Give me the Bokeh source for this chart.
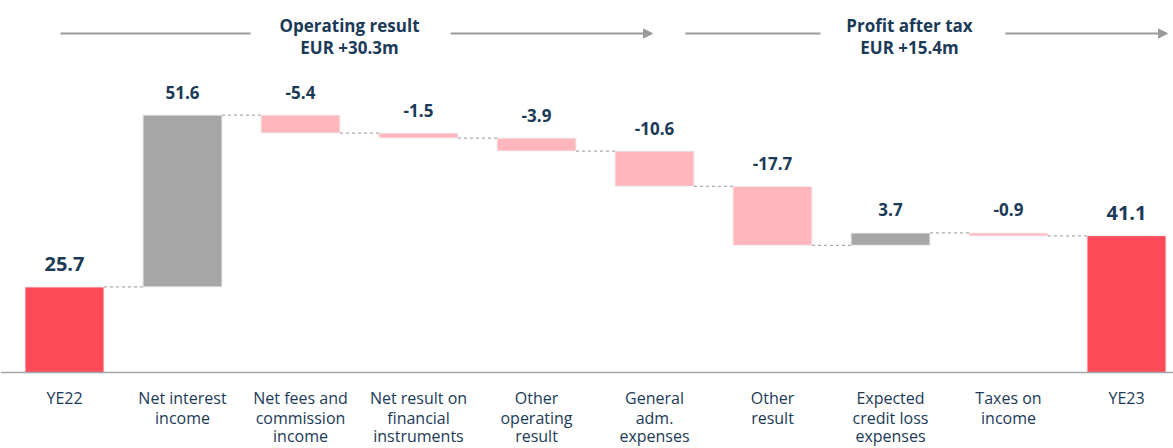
from bokeh.plotting import figure
from bokeh.models import Range1d, ColumnDataSource, Span, Arrow, NormalHead
from bokeh.core.properties import value
from bokeh.embed import file_html
from bokeh.resources import INLINE

categories = ["YE22", "Net interest\nincome", "Net fees and\ncommission\nincome",
              "Net result on\nfinancial\ninstruments", "Other\noperating\nresult",
              "General\nadm.\nexpenses", "Other\nresult", "Expected\ncredit loss\nexpenses",
              "Taxes on\nincome", "YE23"]
values = [25.7, 51.6, -5.4, -1.5, -3.9, -10.6, -17.7, 3.7, -0.9, 41.1]
labels = ["25.7", "51.6", "-5.4", "-1.5", "-3.9", "-10.6", "-17.7", "3.7", "-0.9", "41.1"]
kinds = ["total", "delta", "delta", "delta", "delta", "delta", "delta", "delta", "delta", "total"]
headers = [("Operating result", "EUR +30.3m"), ("Profit after tax", "EUR +15.4m")]

RED = "#FF4B57"
GREY = "#A6A6A6"
PINK = "#FFB7BD"
NAVY = "#1B3A57"
FONT = "Open Sans"

W, H = 1173, 448
SLOT = 118.0      # px per category
SCALE = 3.33      # px per EUR m
BASE = 372.0      # px from top of baseline
X0 = 64.0         # px of first category centre

# waterfall geometry from the data
bottoms, tops, colors, levels = [], [], [], []
run = 0.0
for v, k in zip(values, kinds):
    if k == "total":
        b, t = 0.0, v
        run = v
        colors.append(RED)
    else:
        b, t = (run, run + v) if v >= 0 else (run + v, run)
        run = run + v
        colors.append(GREY if v >= 0 else PINK)
    bottoms.append(b)
    tops.append(t)
    levels.append(run)
xs = list(range(len(values)))


def py(px):
    """pixel row from top -> data y"""
    return (BASE - px) / SCALE


BW = 0.67
p = figure(width=W, height=H, output_backend="svg", toolbar_location=None,
           x_range=Range1d(-X0 / SLOT, -X0 / SLOT + W / SLOT),
           y_range=Range1d(py(H), py(0)),
           min_border=0, outline_line_color=None)
p.xaxis.visible = False
p.yaxis.visible = False
p.grid.visible = False
p.background_fill_color = "white"

src = ColumnDataSource(dict(x=xs, bottom=bottoms, top=tops, color=colors))
p.vbar(x="x", bottom="bottom", top="top", width=BW, fill_color="color",
       line_color="#F0F0F0", line_width=1, source=src)

# connectors
cx0 = [i + BW / 2 for i in xs[:-1]]
cx1 = [i + 1 - BW / 2 for i in xs[:-1]]
cy = levels[:-1]
p.segment(x0=cx0, y0=cy, x1=cx1, y1=cy, line_color="#AAAAAA", line_width=1.2,
          line_dash="3 3")

# baseline
p.add_layout(Span(location=0, dimension="width", line_color="#A0A6AD", line_width=1.5))

# value labels
big = [k == "total" for k in kinds]
lx = [x for x, b in zip(xs, big) if not b]
ly = [t + 23 / SCALE for t, b in zip(tops, big) if not b]
lt = [l for l, b in zip(labels, big) if not b]
p.text(x=lx, y=ly, text=lt, text_align="center", text_baseline="middle",
       text_color=NAVY, text_font=value(FONT), text_font_size="17px", text_font_style="bold")
bx = [x for x, b in zip(xs, big) if b]
by = [t + 23 / SCALE for t, b in zip(tops, big) if b]
bt = [l for l, b in zip(labels, big) if b]
p.text(x=bx, y=by, text=bt, text_align="center", text_baseline="middle",
       text_color=NAVY, text_font=value(FONT), text_font_size="20px", text_font_style="bold")

# category labels
line_rows = [397, 417, 435]
for x, c in zip(xs, categories):
    for j, line in enumerate(c.split("\n")):
        p.text(x=[x], y=[py(line_rows[j])], text=[line], text_align="center",
               text_baseline="middle", text_color=NAVY, text_font=value(FONT),
               text_font_size="16px")

# header arrows and titles (pixel columns converted to category units)
def px_x(px):
    return (px - X0) / SLOT

hdr_y = py(33)
groups = [(60, 250, 450, 652, 349), (685, 820, 1005, 1167, 909)]
for (a0, a1, b0, b1, cx), (h1, h2) in zip(groups, headers):
    p.segment(x0=[px_x(a0)], y0=[hdr_y], x1=[px_x(a1)], y1=[hdr_y],
              line_color="#9A9A9A", line_width=2)
    p.add_layout(Arrow(x_start=px_x(b0), y_start=hdr_y, x_end=px_x(b1), y_end=hdr_y,
                       line_color="#9A9A9A", line_width=2,
                       end=NormalHead(size=9, fill_color="#9A9A9A", line_color="#9A9A9A")))
    p.text(x=[px_x(cx)], y=[py(25)], text=[h1], text_align="center",
           text_baseline="middle", text_color=NAVY, text_font=value(FONT),
           text_font_size="17px", text_font_style="bold")
    p.text(x=[px_x(cx)], y=[py(47)], text=[h2], text_align="center",
           text_baseline="middle", text_color=NAVY, text_font=value(FONT),
           text_font_size="17px", text_font_style="bold")

open("out.html", "w").write(file_html(p, INLINE))
